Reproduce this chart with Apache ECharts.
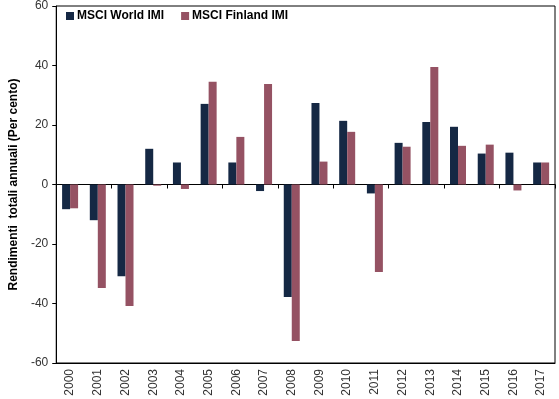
<!DOCTYPE html>
<html>
<head>
<meta charset="utf-8">
<script src="https://cdn.jsdelivr.net/npm/echarts@6/dist/echarts.min.js"></script>
<style>
  html, body { margin: 0; padding: 0; background: #fff; }
  #chart { width: 559px; height: 399px; }
</style>
</head>
<body>
<div id="chart"></div>
<script>
var years = ['2000', '2001', '2002', '2003', '2004', '2005', '2006', '2007', '2008',
  '2009', '2010', '2011', '2012', '2013', '2014', '2015', '2016', '2017'];
var worldImi = [-8.3, -12, -30.8, 12, 7.4, 27.1, 7.4, -2.2, -37.8,
  27.4, 21.4, -3, 14, 21, 19.4, 10.4, 10.7, 7.4];
var finlandImi = [-8, -34.8, -40.8, -0.4, -1.5, 34.5, 16, 33.8, -52.6,
  7.7, 17.7, -29.4, 12.7, 39.5, 13, 13.4, -2, 7.4];
var yTicks = { min: -60, max: 60, step: 20 };

var myChart = echarts.init(document.getElementById('chart'));
var option = {
  animation: false,
  textStyle: { fontFamily: 'Liberation Sans, Arial, sans-serif' },
  grid: {
    left: 55, right: 4, top: 4, bottom: 36,
    show: true, borderColor: '#000', borderWidth: 1
  },
  legend: {
    left: 61, top: 5,
    itemWidth: 8, itemHeight: 8, itemGap: 17,
    icon: 'rect',
    textStyle: { fontSize: 12, fontWeight: 'bold', color: '#000', padding: [0, 0, 0, -2] },
    data: ['MSCI World IMI', 'MSCI Finland IMI']
  },
  xAxis: [
    {
      type: 'category',
      data: years,
      position: 'bottom',
      axisLine: { onZero: false, lineStyle: { color: '#000' } },
      axisTick: { show: false },
      axisLabel: { rotate: 90, color: '#333', fontSize: 12, margin: 6 }
    },
    {
      type: 'category',
      data: years,
      position: 'top',
      axisLine: { onZero: true, lineStyle: { color: '#000' } },
      axisTick: { show: true, inside: true, length: 4, lineStyle: { color: '#000' } },
      axisLabel: { show: false }
    }
  ],
  yAxis: {
    type: 'value',
    min: yTicks.min, max: yTicks.max, interval: yTicks.step,
    name: 'Rendimenti  totali annuali (Per cento)',
    nameLocation: 'middle',
    nameGap: 36,
    nameTextStyle: { fontSize: 12, fontWeight: 'bold', color: '#000' },
    axisLine: { show: true, lineStyle: { color: '#000' } },
    axisTick: { show: true, length: 4, lineStyle: { color: '#000' } },
    axisLabel: { color: '#333', fontSize: 12, margin: 8 },
    splitLine: { show: false }
  },
  series: [
    {
      name: 'MSCI World IMI',
      type: 'bar',
      xAxisIndex: 0,
      barWidth: 8,
      barGap: '0%',
      itemStyle: { color: '#152844' },
      data: worldImi
    },
    {
      name: 'MSCI Finland IMI',
      type: 'bar',
      xAxisIndex: 0,
      barWidth: 8,
      itemStyle: { color: '#955263' },
      data: finlandImi
    }
  ]
};
myChart.setOption(option);
</script>
</body>
</html>
